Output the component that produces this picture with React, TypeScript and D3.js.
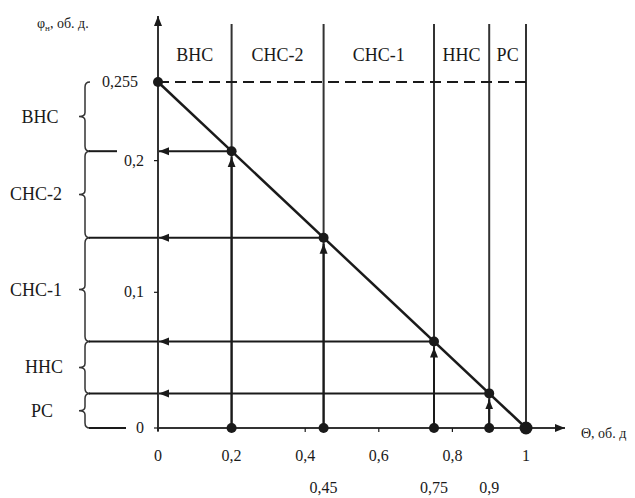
import * as d3 from "d3";

// zone boundaries along Θ and the zone names between them
const bounds = [0, 0.2, 0.45, 0.75, 0.9, 1];
const zones = ["ВНС", "СНС-2", "СНС-1", "ННС", "РС"];
const phiMax = 0.255;
// points on the line that get arrows
const marked = [0.2, 0.45, 0.75, 0.9];
const xTicks = [0, 0.2, 0.4, 0.6, 0.8, 1];
const xTickLabels = ["0", "0,2", "0,4", "0,6", "0,8", "1"];
const extraXLabels = ["0,45", "0,75", "0,9"];
const yTicks = [0, 0.1, 0.2, 0.255];
const yTickLabels = ["0", "0,1", "0,2", "0,255"];

const W = 635;
const H = 498;
const INK = "#1a1a1a";
const FONT = "'Liberation Serif', 'Times New Roman', serif";

const phi = (t: number) => phiMax * (1 - t);

export default function App() {
  const x = d3.scaleLinear().domain([0, 1]).range([158, 526]);
  const y = d3.scaleLinear().domain([0, phiMax]).range([428, 82]);

  // phi levels splitting the left braces
  const levels = [phiMax, ...marked.map(phi), 0];
  const braceLabelX = [40, 36, 36, 44, 42];

  const brace = (y1: number, y2: number) => {
    const xr = 90, xv = 85, xt = 79, ym = (y1 + y2) / 2;
    return `M${xr},${y1} Q${xv},${y1} ${xv},${y1 + 5} L${xv},${ym - 4} Q${xv},${ym} ${xt},${ym} Q${xv},${ym} ${xv},${ym + 4} L${xv},${y2 - 5} Q${xv},${y2} ${xr},${y2}`;
  };

  const line = d3.line<number>().x((t) => x(t)).y((t) => y(phi(t)));

  return (
    <svg
      width={W}
      height={H}
      style={{ position: "absolute", left: 0, top: 0, background: "#fff" }}
      fontFamily={FONT}
    >
      <defs>
        <marker id="big" viewBox="0 0 10 10" refX="10" refY="5" markerWidth="10" markerHeight="10" orient="auto" markerUnits="userSpaceOnUse">
          <path d="M0,1 L10,5 L0,9 z" fill={INK} />
        </marker>
      </defs>

      {/* zone boundary lines */}
      {bounds.slice(1).map((b) => (
        <line key={b} x1={x(b)} x2={x(b)} y1={24} y2={y(0)} stroke="#333" strokeWidth={2} />
      ))}

      {/* zone labels */}
      {zones.map((z, i) => (
        <text key={z} x={(x(bounds[i]) + x(bounds[i + 1])) / 2} y={61} textAnchor="middle" fontSize={18} fill={INK}>
          {z}
        </text>
      ))}

      {/* dashed top level */}
      <line x1={x(0)} x2={x(1)} y1={y(phiMax)} y2={y(phiMax)} stroke={INK} strokeWidth={2} strokeDasharray="11,6" />

      {/* axes */}
      <line x1={x(0)} x2={x(0)} y1={y(0) + 3} y2={16} stroke="#333" strokeWidth={2} markerEnd="url(#big)" />
      <line x1={x(0)} x2={565} y1={y(0)} y2={y(0)} stroke="#333" strokeWidth={2} markerEnd="url(#big)" />

      {/* x ticks */}
      {xTicks.map((t, i) => (
        <g key={t}>
          <line x1={x(t)} x2={x(t)} y1={y(0)} y2={y(0) + 4} stroke={INK} strokeWidth={1.2} />
          <text x={x(t)} y={461} textAnchor="middle" fontSize={16} fill={INK}>
            {xTickLabels[i]}
          </text>
        </g>
      ))}
      {marked.slice(1).map((t, i) => (
        <text key={t} x={x(t)} y={493} textAnchor="middle" fontSize={16} fill={INK}>
          {extraXLabels[i]}
        </text>
      ))}

      {/* y ticks */}
      {yTicks.map((v, i) => {
        const yy = v === 0.2 ? y(v) + 4 : y(v);
        return (
          <g key={v}>
            <line x1={x(0) - 4} x2={x(0)} y1={yy} y2={yy} stroke={INK} strokeWidth={1.2} />
            <text x={v === phiMax ? x(0) - 20 : x(0) - 14} y={yy + 5} textAnchor="end" fontSize={16} fill={INK}>
              {yTickLabels[i]}
            </text>
          </g>
        );
      })}

      {/* left braces and zone names */}
      {zones.map((z, i) => {
        const y1 = y(levels[i]);
        const y2 = y(levels[i + 1]);
        return (
          <g key={z}>
            <path d={brace(y1, y2)} fill="none" stroke="#333" strokeWidth={1.5} />
            <text x={braceLabelX[i]} y={(y1 + y2) / 2 + 6} textAnchor="middle" fontSize={18} fill={INK}>
              {z}
            </text>
          </g>
        );
      })}

      {/* horizontal lines from braces to the axis */}
      {levels.slice(1).map((v) => (
        <line
          key={v}
          x1={89}
          x2={v === 0 ? 126 : v === phi(0.2) ? 117 : x(0)}
          y1={y(v)}
          y2={y(v)}
          stroke={INK}
          strokeWidth={2}
        />
      ))}

      {/* falling line */}
      <path d={line([0, 1]) ?? ""} fill="none" stroke={INK} strokeWidth={2.5} />

      {/* arrows from each marked point */}
      {marked.map((t) => (
        <g key={t}>
          <line x1={x(t)} x2={x(0) + 1} y1={y(phi(t))} y2={y(phi(t))} stroke={INK} strokeWidth={2} markerEnd="url(#big)" />
          <line x1={x(t)} x2={x(t)} y1={y(0)} y2={y(phi(t)) + 6} stroke={INK} strokeWidth={2} markerEnd="url(#big)" />
          <circle cx={x(t)} cy={y(phi(t))} r={5} fill={INK} />
          <circle cx={x(t)} cy={y(0)} r={5} fill={INK} />
        </g>
      ))}
      <circle cx={x(0)} cy={y(phiMax)} r={5} fill={INK} />
      <circle cx={x(1)} cy={y(0)} r={6.5} fill={INK} />

      {/* axis titles */}
      <text x={37} y={28} fontSize={14} fill={INK}>
        φ<tspan fontSize={9} dy={3}>н</tspan>
        <tspan dy={-3}>, об. д.</tspan>
      </text>
      <text x={581} y={438} fontSize={14} fill={INK}>
        Θ, об. д
      </text>
    </svg>
  );
}
